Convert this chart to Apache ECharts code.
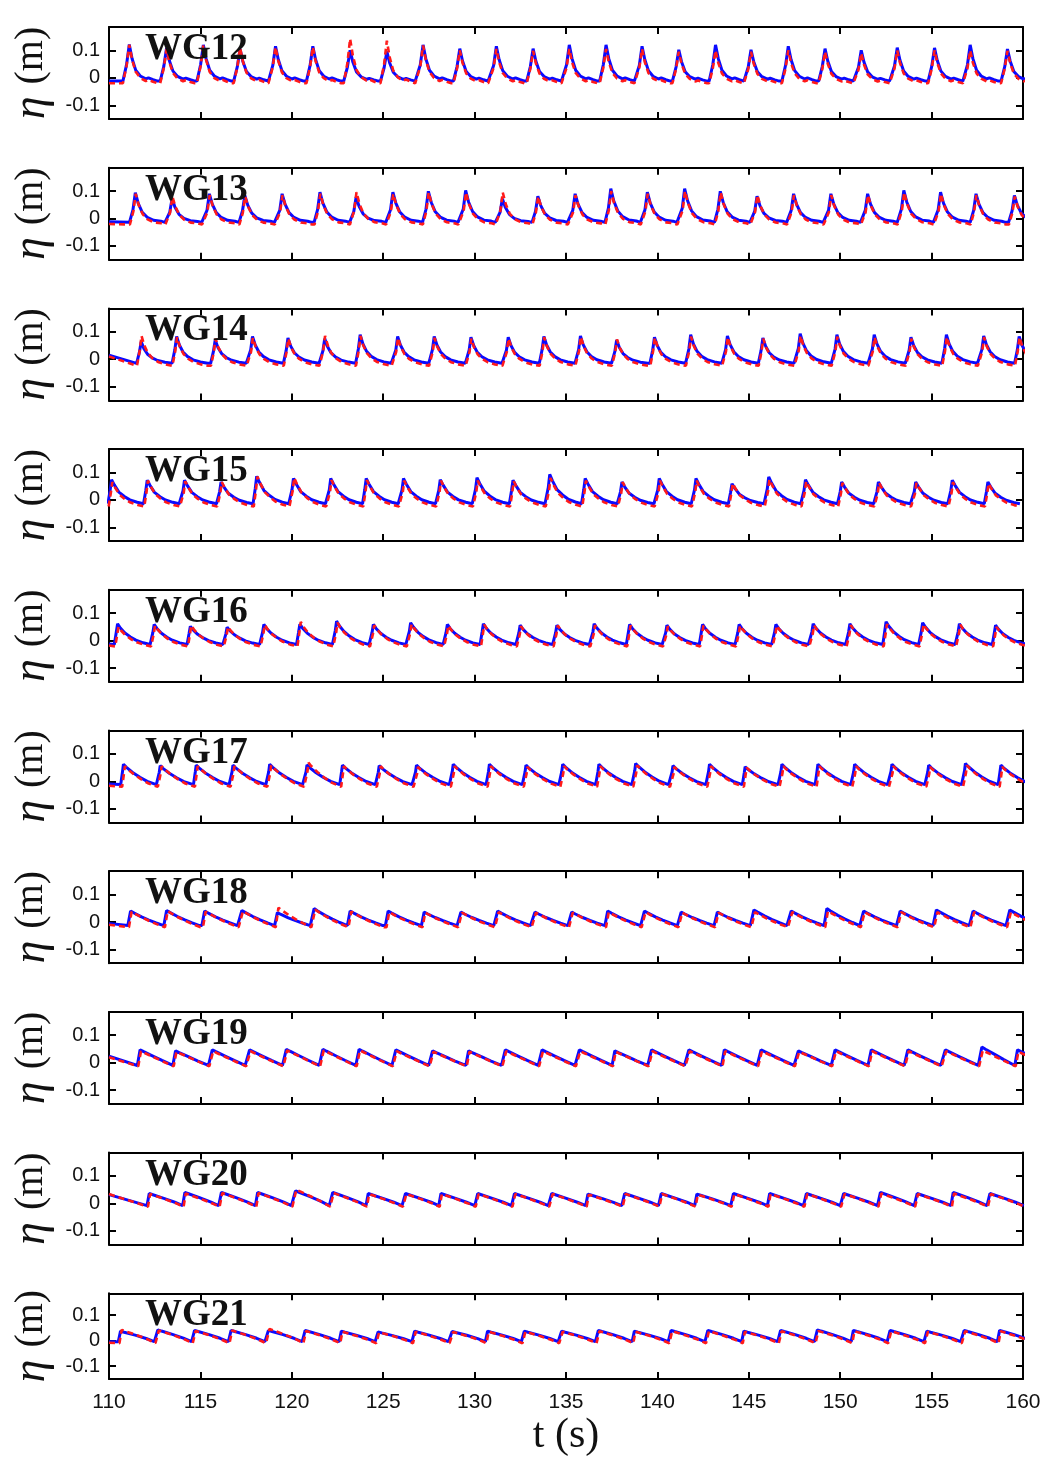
<!DOCTYPE html>
<html>
<head>
<meta charset="utf-8">
<script src="https://cdn.jsdelivr.net/npm/echarts@6/dist/echarts.min.js"></script>
<style>
html,body{margin:0;padding:0;background:#fff;}
#c{width:1047px;height:1458px;}
</style>
</head>
<body>
<div id="c"></div>
<script>
// ---------------- data ----------------
const gauges = ['WG12','WG13','WG14','WG15','WG16','WG17','WG18','WG19','WG20','WG21'];
const xMin = 110, xMax = 160, xStep = 5;
const yTickValues = [-0.1, 0, 0.1];

// crest times (s) of the measured (blue) record
const peakT_WG12 = [111.11,113.15,115.16,117.17,119.11,121.15,123.19,125.20,127.18,129.19,131.19,133.20,135.18,137.19,139.16,141.17,143.18,145.12,147.16,149.17,151.15,153.12,155.16,157.11,159.15];
const peakT_WG13 = [111.44,113.45,115.49,117.43,119.47,121.54,123.52,125.53,127.47,129.51,131.52,133.46,135.50,137.45,139.45,141.49,143.44,145.45,147.45,149.49,151.50,153.48,155.49,157.43,159.53];
const peakT_WG14 = [111.76,113.70,115.81,117.85,119.79,121.80,123.74,125.79,127.79,129.80,131.84,133.79,135.79,137.77,139.84,141.82,143.83,145.77,147.81,149.82,151.86,153.87,155.81,157.85,159.79];
const peakT_WG15 = [110.14,112.09,114.13,116.13,118.08,120.09,122.13,124.07,126.11,128.12,130.13,132.10,134.11,136.05,138.06,140.10,142.11,144.08,146.09,148.10,150.08,152.09,154.13,156.13,158.08];
const peakT_WG16 = [110.47,112.47,114.45,116.46,118.47,120.44,122.45,124.46,126.50,128.51,130.48,132.49,134.50,136.54,138.48,140.52,142.47,144.47,146.48,148.52,150.53,152.51,154.51,156.52,158.50];
const peakT_WG17 = [110.79,112.80,114.77,116.78,118.79,120.83,122.77,124.78,126.82,128.83,130.81,132.81,134.82,136.80,138.81,140.85,142.85,144.80,146.81,148.78,150.79,152.83,154.84,156.85,158.79];
const peakT_WG18 = [111.18,113.15,115.23,117.27,119.21,121.22,123.19,125.27,127.24,129.25,131.26,133.30,135.31,137.28,139.29,141.30,143.28,145.28,147.32,149.27,151.28,153.28,155.26,157.27,159.28];
const peakT_WG19 = [111.70,113.64,115.65,117.69,119.70,121.70,123.68,125.69,127.70,129.67,131.68,133.69,135.73,137.67,139.68,141.72,143.66,145.67,147.71,149.72,151.70,153.70,155.75,157.75,159.70];
const peakT_WG20 = [112.20,114.15,116.15,118.13,120.20,122.24,124.18,126.22,128.16,130.17,132.18,134.22,136.20,138.21,140.21,142.16,144.16,146.14,148.15,150.19,152.20,154.21,156.18,158.19];
const peakT_WG21 = [110.63,112.67,114.68,116.68,118.72,120.73,122.71,124.72,126.72,128.77,130.71,132.72,134.76,136.77,138.74,140.75,142.76,144.73,146.74,148.75,150.72,152.73,154.74,156.78,158.72];

// crest elevations (m): blue = measured, red = computed
const blueA_WG12 = [0.121,0.109,0.120,0.105,0.115,0.115,0.100,0.096,0.120,0.106,0.115,0.106,0.120,0.120,0.115,0.102,0.120,0.102,0.115,0.106,0.100,0.110,0.109,0.120,0.105];
const redA_WG12  = [0.120,0.105,0.118,0.110,0.112,0.112,0.142,0.135,0.118,0.100,0.105,0.098,0.105,0.105,0.105,0.095,0.100,0.095,0.100,0.095,0.090,0.100,0.100,0.100,0.098];
const blueA_WG13 = [0.094,0.072,0.090,0.084,0.090,0.096,0.078,0.096,0.099,0.102,0.072,0.081,0.090,0.109,0.096,0.109,0.099,0.081,0.090,0.090,0.090,0.102,0.096,0.090,0.084];
const redA_WG13  = [0.090,0.080,0.085,0.080,0.085,0.090,0.096,0.090,0.095,0.095,0.095,0.080,0.085,0.100,0.090,0.100,0.095,0.085,0.085,0.085,0.085,0.095,0.090,0.085,0.080];
const blueA_WG14 = [0.064,0.083,0.070,0.083,0.077,0.075,0.089,0.083,0.083,0.080,0.080,0.083,0.085,0.070,0.080,0.089,0.085,0.077,0.093,0.089,0.089,0.080,0.089,0.085,0.083];
const redA_WG14  = [0.085,0.080,0.075,0.078,0.075,0.085,0.085,0.078,0.078,0.075,0.075,0.080,0.082,0.072,0.078,0.082,0.080,0.075,0.085,0.082,0.080,0.075,0.080,0.080,0.080];
const blueA_WG15 = [0.074,0.072,0.072,0.065,0.086,0.078,0.078,0.078,0.078,0.074,0.081,0.072,0.093,0.078,0.065,0.078,0.078,0.059,0.084,0.074,0.065,0.065,0.065,0.072,0.065];
const redA_WG15  = [0.065,0.070,0.068,0.065,0.085,0.081,0.072,0.072,0.070,0.070,0.070,0.068,0.080,0.070,0.065,0.070,0.070,0.060,0.075,0.068,0.062,0.062,0.062,0.065,0.060];
const blueA_WG16 = [0.061,0.059,0.052,0.049,0.059,0.060,0.071,0.059,0.065,0.059,0.061,0.056,0.056,0.061,0.059,0.056,0.059,0.059,0.059,0.061,0.061,0.069,0.065,0.061,0.056];
const redA_WG16  = [0.050,0.055,0.055,0.050,0.058,0.068,0.065,0.056,0.060,0.055,0.058,0.052,0.055,0.056,0.055,0.052,0.055,0.055,0.055,0.056,0.056,0.060,0.060,0.058,0.050];
const blueA_WG17 = [0.062,0.057,0.059,0.059,0.062,0.060,0.059,0.057,0.059,0.062,0.062,0.059,0.062,0.062,0.065,0.057,0.062,0.053,0.062,0.062,0.062,0.062,0.059,0.065,0.059];
const redA_WG17  = [0.055,0.055,0.055,0.055,0.058,0.068,0.055,0.055,0.052,0.055,0.055,0.052,0.055,0.055,0.058,0.052,0.055,0.050,0.055,0.055,0.055,0.055,0.052,0.058,0.052];
const blueA_WG18 = [0.040,0.042,0.040,0.042,0.034,0.049,0.040,0.040,0.036,0.036,0.040,0.036,0.036,0.040,0.040,0.036,0.036,0.044,0.040,0.049,0.040,0.040,0.044,0.040,0.044];
const redA_WG18  = [0.038,0.040,0.038,0.040,0.052,0.045,0.038,0.036,0.034,0.034,0.036,0.034,0.034,0.036,0.036,0.034,0.034,0.036,0.036,0.040,0.036,0.036,0.036,0.036,0.036];
const blueA_WG19 = [0.047,0.043,0.047,0.047,0.049,0.049,0.049,0.047,0.043,0.043,0.047,0.047,0.047,0.043,0.047,0.047,0.047,0.047,0.043,0.047,0.047,0.047,0.047,0.057,0.047];
const redA_WG19  = [0.042,0.040,0.042,0.042,0.045,0.045,0.045,0.042,0.040,0.040,0.042,0.042,0.042,0.040,0.042,0.042,0.042,0.042,0.040,0.042,0.042,0.042,0.042,0.045,0.040];
const blueA_WG20 = [0.036,0.040,0.040,0.040,0.046,0.040,0.036,0.036,0.036,0.036,0.036,0.036,0.034,0.036,0.036,0.034,0.036,0.036,0.036,0.036,0.040,0.036,0.040,0.036];
const redA_WG20  = [0.034,0.036,0.038,0.038,0.050,0.038,0.034,0.034,0.034,0.034,0.034,0.034,0.032,0.034,0.034,0.032,0.034,0.034,0.034,0.034,0.036,0.034,0.036,0.034];
const blueA_WG21 = [0.037,0.042,0.040,0.040,0.040,0.040,0.037,0.034,0.037,0.036,0.037,0.037,0.037,0.040,0.037,0.040,0.040,0.037,0.040,0.042,0.040,0.040,0.037,0.040,0.040];
const redA_WG21  = [0.042,0.040,0.038,0.040,0.046,0.038,0.035,0.033,0.035,0.034,0.035,0.035,0.035,0.037,0.035,0.037,0.037,0.035,0.037,0.038,0.037,0.037,0.035,0.037,0.037];

// trough levels, level at t = 110 s, and red crest lag (s), one per gauge
const blueBase  = [-0.012,-0.014,-0.015,-0.014,-0.014,-0.012,-0.013,-0.010,-0.008,-0.004];
const redBase   = [-0.020,-0.022,-0.024,-0.024,-0.021,-0.020,-0.019,-0.013,-0.012,-0.010];
const blueStart = [-0.012,-0.012, 0.015, 0.05,-0.012,-0.010,-0.005, 0.024, 0.032,-0.004];
const redStart  = [-0.020,-0.020, 0.010, 0.05,-0.018,-0.016,-0.010, 0.020, 0.034,-0.008];
const redLag    = [0.00, 0.02, 0.02, 0.04, 0.05, 0.08, 0.06, 0.05, 0.05, 0.06];

// wave profile: time from crest (s) and fraction of crest height above trough
const profT_WG12 = [-0.35,-0.15,0,0.15,0.35,0.60,0.90,1.05,1.30,1.55];
const profF_WG12 = [0,0.45,1,0.62,0.30,0.14,0.06,0.09,0.04,0];
const profT_WG13 = [-0.32,-0.13,0,0.16,0.38,0.65,1.00,1.40,1.62];
const profF_WG13 = [0,0.42,1,0.64,0.34,0.17,0.07,0.04,0];
const profT_WG14 = [-0.25,-0.10,0,0.15,0.35,0.60,0.90,1.30,1.70];
const profF_WG14 = [0,0.50,1,0.68,0.42,0.25,0.13,0.05,0];
const profT_WG15 = [-0.20,-0.08,0,0.15,0.40,0.70,1.00,1.40,1.75];
const profF_WG15 = [0,0.55,1,0.78,0.48,0.30,0.16,0.06,0];
const profT_WG16 = [-0.18,-0.07,0,0.15,0.40,0.70,1.00,1.40,1.78];
const profF_WG16 = [0,0.60,1,0.80,0.56,0.36,0.21,0.08,0];
const profT_WG17 = [-0.15,-0.05,0,0.15,0.50,0.90,1.30,1.80];
const profF_WG17 = [0,0.65,1,0.86,0.60,0.36,0.16,0];
const profT_WG18 = [-0.15,0,0.20,0.60,1.00,1.40,1.80];
const profF_WG18 = [0,1,0.86,0.60,0.38,0.18,0];
const profT_WG19 = [-0.15,0,0.20,0.70,1.20,1.80];
const profF_WG19 = [0,1,0.88,0.60,0.32,0];
const profT_WG20 = [-0.12,0,0.20,0.80,1.40,1.85];
const profF_WG20 = [0,1,0.90,0.60,0.28,0];
const profT_WG21 = [-0.12,0,0.20,0.80,1.40,1.85];
const profF_WG21 = [0,1,0.90,0.62,0.30,0];

const peakT = [peakT_WG12,peakT_WG13,peakT_WG14,peakT_WG15,peakT_WG16,peakT_WG17,peakT_WG18,peakT_WG19,peakT_WG20,peakT_WG21];
const blueA = [blueA_WG12,blueA_WG13,blueA_WG14,blueA_WG15,blueA_WG16,blueA_WG17,blueA_WG18,blueA_WG19,blueA_WG20,blueA_WG21];
const redA  = [redA_WG12,redA_WG13,redA_WG14,redA_WG15,redA_WG16,redA_WG17,redA_WG18,redA_WG19,redA_WG20,redA_WG21];
const profT = [profT_WG12,profT_WG13,profT_WG14,profT_WG15,profT_WG16,profT_WG17,profT_WG18,profT_WG19,profT_WG20,profT_WG21];
const profF = [profF_WG12,profF_WG13,profF_WG14,profF_WG15,profF_WG16,profF_WG17,profF_WG18,profF_WG19,profF_WG20,profF_WG21];

// assemble [t, eta] vertices from the read crests / troughs
function record(tp, amp, base, lag, start, pT, pF) {
  const pts = [];
  const first = tp[0] + lag + pT[0];
  if (first > xMin) pts.push([xMin, start]);
  for (let i = 0; i < tp.length; i++) {
    const c = tp[i] + lag;
    const nextStart = i + 1 < tp.length ? tp[i + 1] + lag + pT[0] : Infinity;
    for (let k = 0; k < pT.length; k++) {
      const t = c + pT[k];
      if (t >= nextStart - 0.02) continue;
      pts.push([+t.toFixed(3), +(base + pF[k] * (amp[i] - base)).toFixed(4)]);
    }
  }
  return pts;
}

// ---------------- layout ----------------
const L = 109, W = 914, T0 = 27, STEP = 140.7, H = 92;
const labFont = "'Liberation Sans', Arial, Helvetica, sans-serif";
const serif = "'Liberation Serif', 'Times New Roman', serif";

const grids = [], xAxes = [], yAxes = [], series = [], titles = [];
gauges.forEach((g, i) => {
  const top = T0 + i * STEP;
  grids.push({ left: L, top: top, width: W, height: H, containLabel: false });
  const last = i === gauges.length - 1;
  const axLine = { show: true, onZero: false, lineStyle: { color: '#000', width: 2 } };
  const tick = { show: true, inside: true, length: 7, lineStyle: { color: '#000', width: 2 } };
  xAxes.push({
    gridIndex: i, type: 'value', position: 'bottom', min: xMin, max: xMax, interval: xStep,
    axisLine: axLine, axisTick: tick, splitLine: { show: false },
    axisLabel: { show: last, margin: 13, fontFamily: labFont, fontSize: 21, color: '#111' },
    name: last ? 't (s)' : '', nameLocation: 'middle', nameGap: 36,
    nameTextStyle: { fontFamily: serif, fontSize: 42, color: '#111' }
  });
  xAxes.push({
    gridIndex: i, type: 'value', position: 'top', min: xMin, max: xMax, interval: xStep,
    axisLine: axLine, axisTick: tick, splitLine: { show: false }, axisLabel: { show: false }
  });
  yAxes.push({
    gridIndex: i, type: 'value', position: 'left', min: -0.15, max: 0.185,
    axisLine: axLine,
    axisTick: Object.assign({}, tick, { customValues: yTickValues }),
    splitLine: { show: false },
    axisLabel: { customValues: yTickValues, margin: 9, fontFamily: labFont, fontSize: 20, color: '#111',
      formatter: v => (Math.abs(v) < 1e-9 ? '0' : v.toFixed(1)) },
    name: '{e|η}{p|(m)}', nameLocation: 'middle', nameGap: 48,
    nameTextStyle: { color: '#111', rich: {
      e: { fontFamily: serif, fontStyle: 'italic', fontSize: 46, color: '#111', padding: [0, 12, 0, 0] },
      p: { fontFamily: serif, fontSize: 40, color: '#111' } } }
  });
  yAxes.push({
    gridIndex: i, type: 'value', position: 'right', min: -0.15, max: 0.185,
    axisLine: axLine,
    axisTick: Object.assign({}, tick, { customValues: yTickValues }),
    splitLine: { show: false }, axisLabel: { show: false }
  });
  series.push({
    type: 'line', xAxisIndex: 2 * i, yAxisIndex: 2 * i, z: 2,
    data: record(peakT[i], blueA[i], blueBase[i], 0, blueStart[i], profT[i], profF[i]),
    showSymbol: false, symbol: 'none', clip: true,
    lineStyle: { color: '#0a0aff', width: 3 }
  });
  series.push({
    type: 'line', xAxisIndex: 2 * i, yAxisIndex: 2 * i, z: 3,
    data: record(peakT[i], redA[i], redBase[i], redLag[i], redStart[i], profT[i], profF[i]),
    showSymbol: false, symbol: 'none', clip: true,
    lineStyle: { color: '#ff1a1a', width: 2.6, type: [6, 4] }
  });
  titles.push({
    text: g, left: 145, top: top + 4, padding: 0,
    textStyle: { fontFamily: serif, fontWeight: 'bold', fontSize: 37, color: '#111' }
  });
});

const chart = echarts.init(document.getElementById('c'), null, { renderer: 'canvas' });
chart.setOption({
  animation: false,
  backgroundColor: '#fff',
  title: titles,
  grid: grids,
  xAxis: xAxes,
  yAxis: yAxes,
  series: series
});
</script>
</body>
</html>
